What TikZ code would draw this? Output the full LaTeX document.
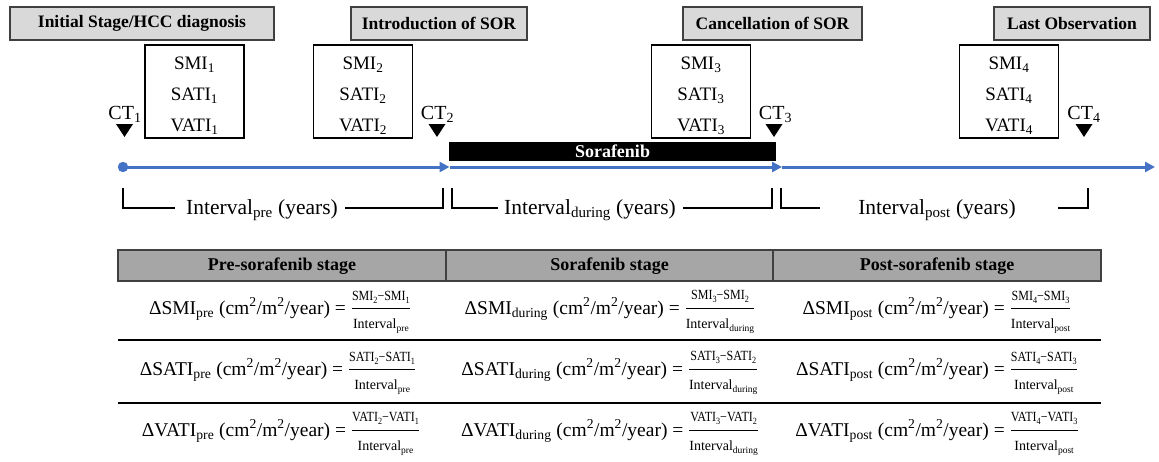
\documentclass[tikz,border=0pt]{standalone}
\usepackage{amsmath}
\usepackage{fontspec}
\setmainfont{Liberation Serif}[BoldFont={Liberation Serif Bold}]
\usetikzlibrary{arrows.meta}
\definecolor{tlblue}{HTML}{4472C4}
\definecolor{lgray}{HTML}{D9D9D9}
\definecolor{hgray}{HTML}{A6A6A6}
\definecolor{bdgray}{HTML}{404040}
\newcommand\fracsz{\fontsize{14}{16}\selectfont}
\newcommand\fsub[1]{\raisebox{-3pt}{\fontsize{9.5}{9.5}\selectfont #1}}
\newcommand\myfrac[2]{$\displaystyle\genfrac{}{}{1.1pt}{0}{\hbox{\scalebox{0.86}[1]{\fracsz #1}}}{\hbox{\fracsz #2}}$}
\tikzset{
  topbox/.style={draw=bdgray, line width=1.2pt, fill=lgray, inner sep=0pt, minimum height=33pt, font=\fontsize{17.5}{20}\selectfont\bfseries},
  smibox/.style={draw=black, line width=1.2pt, fill=white, minimum width=99pt, minimum height=93pt, inner sep=0pt},
  smitext/.style={align=center, inner sep=0pt, font=\fontsize{19}{31}\selectfont},
  ctlab/.style={inner sep=0pt, font=\fontsize{20}{22}\selectfont},
  tline/.style={draw=tlblue, line width=3pt, -{Triangle[length=10pt,width=10pt]}},
  brk/.style={draw=black, line width=1.2pt},
  ivlab/.style={inner sep=0pt, font=\fontsize{21.5}{24}\selectfont},
  hdrtext/.style={inner sep=0pt, font=\fontsize{18}{22}\selectfont\bfseries},
  cell/.style={inner sep=0pt, font=\fontsize{19.5}{22}\selectfont},
  sep/.style={draw=black, line width=1.3pt}
}
\begin{document}
\begin{tikzpicture}[x=1pt,y=-1pt]
\useasboundingbox (0,0) rectangle (1159,461);
% top labels
\node[topbox, minimum width=264pt] (lab1) at (142,23.5) {Initial Stage/HCC diagnosis};
\node[topbox, minimum width=176pt] (lab2) at (439,23.5) {Introduction of SOR};
\node[topbox, minimum width=179pt] (lab3) at (772.5,23.5) {Cancellation of SOR};
\node[topbox, minimum width=156pt] (lab4) at (1072,23.5) {Last Observation};
% measurement boxes
\node[smibox] (box1) at (194.5,91.5) {};
\node[smibox] (box2) at (363,91.5) {};
\node[smibox] (box3) at (701,91.5) {};
\node[smibox] (box4) at (1009,91.5) {};
\node[smitext] (m1) at (194.5,96) {SMI\textsubscript{1}\\SATI\textsubscript{1}\\VATI\textsubscript{1}};
\node[smitext] (m2) at (363,96) {SMI\textsubscript{2}\\SATI\textsubscript{2}\\VATI\textsubscript{2}};
\node[smitext] (m3) at (701,96) {SMI\textsubscript{3}\\SATI\textsubscript{3}\\VATI\textsubscript{3}};
\node[smitext] (m4) at (1009,96) {SMI\textsubscript{4}\\SATI\textsubscript{4}\\VATI\textsubscript{4}};
% CT markers
\node[ctlab] (ct1) at (125,114) {CT\textsubscript{1}};
\node[ctlab] (ct2) at (437.5,114) {CT\textsubscript{2}};
\node[ctlab] (ct3) at (775.5,114) {CT\textsubscript{3}};
\node[ctlab] (ct4) at (1084,114) {CT\textsubscript{4}};
\foreach \cx in {124.5,437,774,1084}{
  \fill[black] (\cx-8.5,124) -- (\cx+8.5,124) -- (\cx,137) -- cycle;
}
% sorafenib bar
\node[fill=black, text=white, minimum width=327pt, minimum height=19.5pt, inner sep=0pt, font=\fontsize{18}{20}\selectfont\bfseries] (sor) at (612.5,151.5) {Sorafenib};
% timeline
\coordinate (t0) at (123,167);
\coordinate (t1) at (449.5,167);
\coordinate (t2) at (782,167);
\coordinate (t3) at (1155,167);
\fill[tlblue] (t0) circle (5.2pt);
\draw[tline] (t0) -- (t1);
\draw[tline] (t1) -- (t2);
\draw[tline] (t2) -- (t3);
% interval brackets
\node[ivlab] (ivpre) at (262,210) {Interval\textsubscript{pre} (years)};
\node[ivlab] (ivdur) at (590,210) {Interval\textsubscript{during} (years)};
\node[ivlab] (ivpost) at (937,210) {Interval\textsubscript{post} (years)};
\draw[brk] (123,188) -- (123,208) -- (175,208);
\draw[brk] (345,208) -- (443,208) -- (443,188);
\draw[brk] (452,188) -- (452,208) -- (498,208);
\draw[brk] (683,208) -- (772,208) -- (772,188);
\draw[brk] (781,188) -- (781,208) -- (820,208);
\draw[brk] (1058,208) -- (1088,208) -- (1088,188);
% table header
\draw[draw=bdgray, fill=hgray, line width=1.6pt] (118,250) rectangle (1101,281);
\draw[draw=bdgray, line width=1.6pt] (446,250) -- (446,281);
\draw[draw=bdgray, line width=1.6pt] (773,250) -- (773,281);
\node[hdrtext] (h1) at (282,266) {Pre-sorafenib stage};
\node[hdrtext] (h2) at (609.5,266) {Sorafenib stage};
\node[hdrtext] (h3) at (937,266) {Post-sorafenib stage};
\draw[sep] (118,340) -- (1101,340);
\draw[sep] (118,403) -- (1101,403);
% table cells
\node[cell] (c11) at (280,312) {ΔSMI\textsubscript{pre} (cm\textsuperscript{2}/m\textsuperscript{2}/year) = \myfrac{SMI\fsub{2}−SMI\fsub{1}}{Interval\fsub{pre}}};
\node[cell] (c21) at (278,373) {ΔSATI\textsubscript{pre} (cm\textsuperscript{2}/m\textsuperscript{2}/year) = \myfrac{SATI\fsub{2}−SATI\fsub{1}}{Interval\fsub{pre}}};
\node[cell] (c31) at (281,434) {ΔVATI\textsubscript{pre} (cm\textsuperscript{2}/m\textsuperscript{2}/year) = \myfrac{VATI\fsub{2}−VATI\fsub{1}}{Interval\fsub{pre}}};
\node[cell] (c12) at (610,312) {ΔSMI\textsubscript{during} (cm\textsuperscript{2}/m\textsuperscript{2}/year) = \myfrac{SMI\fsub{3}−SMI\fsub{2}}{Interval\fsub{during}}};
\node[cell] (c22) at (610,373) {ΔSATI\textsubscript{during} (cm\textsuperscript{2}/m\textsuperscript{2}/year) = \myfrac{SATI\fsub{3}−SATI\fsub{2}}{Interval\fsub{during}}};
\node[cell] (c32) at (610,434) {ΔVATI\textsubscript{during} (cm\textsuperscript{2}/m\textsuperscript{2}/year) = \myfrac{VATI\fsub{3}−VATI\fsub{2}}{Interval\fsub{during}}};
\node[cell] (c13) at (937,312) {ΔSMI\textsubscript{post} (cm\textsuperscript{2}/m\textsuperscript{2}/year) = \myfrac{SMI\fsub{4}−SMI\fsub{3}}{Interval\fsub{post}}};
\node[cell] (c23) at (937,373) {ΔSATI\textsubscript{post} (cm\textsuperscript{2}/m\textsuperscript{2}/year) = \myfrac{SATI\fsub{4}−SATI\fsub{3}}{Interval\fsub{post}}};
\node[cell] (c33) at (937,434) {ΔVATI\textsubscript{post} (cm\textsuperscript{2}/m\textsuperscript{2}/year) = \myfrac{VATI\fsub{4}−VATI\fsub{3}}{Interval\fsub{post}}};
\end{tikzpicture}
\end{document}
